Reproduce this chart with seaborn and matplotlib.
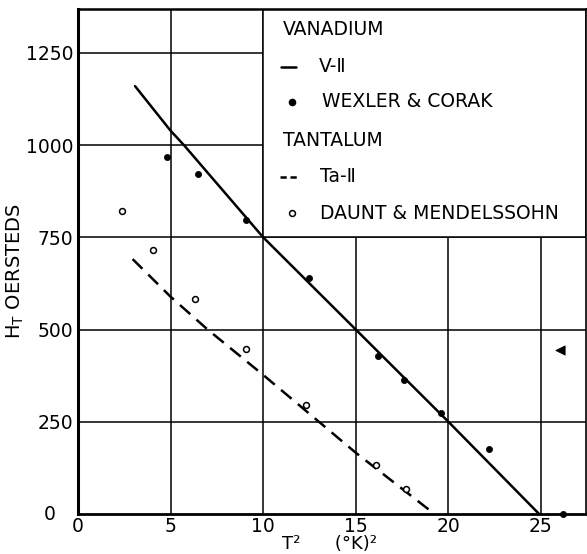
import matplotlib
matplotlib.use("Agg")
import matplotlib.pyplot as plt
from matplotlib.patches import Rectangle
import pandas as pd
import seaborn as sns

# Vanadium: theoretical curve V-II and the Wexler & Corak measurements
v_theory_t2 = [3.08, 5.0, 5.72, 10.0, 15.0, 20.0, 24.9]
v_theory_h = [1160, 1039, 1000, 750, 500, 250, 0]
wexler_t2 = [4.82, 6.46, 9.05, 12.49, 16.18, 17.6, 19.6, 22.2, 26.2]
wexler_h = [969, 922, 797, 641, 428, 363, 273, 176, 0]

# Tantalum: theoretical curve Ta-II and the Daunt & Mendelssohn measurements
ta_theory_t2 = [2.95, 5.0, 7.0, 10.0, 15.0, 19.25]
ta_theory_h = [691, 589, 500, 377, 166, 0]
daunt_t2 = [2.36, 4.07, 6.32, 9.05, 12.31, 16.07, 17.7]
daunt_h = [822, 716, 583, 447, 296, 133, 68]

# lone arrow mark on the right
arrow_t2 = [26.0]
arrow_h = [445]

x_ticks = [0, 5, 10, 15, 20, 25]
x_labels = ["0", "5", "10", "15", "20", "25"]
y_ticks = [250, 500, 750, 1000, 1250]
y_labels = ["250", "500", "750", "1000", "1250"]

legend_rows = ["VANADIUM", "V-Ⅱ", "WEXLER & CORAK",
               "TANTALUM", "Ta-Ⅱ", "DAUNT & MENDELSSOHN"]

sns.set_style("white")
plt.rcParams["font.family"] = ["DejaVu Sans"]
plt.rcParams["mathtext.default"] = "regular"
plt.rcParams["text.color"] = "black"
plt.rcParams["axes.labelcolor"] = "black"
plt.rcParams["xtick.color"] = "black"
plt.rcParams["ytick.color"] = "black"

v_line = pd.DataFrame({"t2": v_theory_t2, "h": v_theory_h})
ta_line = pd.DataFrame({"t2": ta_theory_t2, "h": ta_theory_h})
wexler = pd.DataFrame({"t2": wexler_t2, "h": wexler_h})
daunt = pd.DataFrame({"t2": daunt_t2, "h": daunt_h})

fig = plt.figure(figsize=(5.87, 5.54), dpi=100)
ax = fig.add_axes([78 / 587, 40 / 554, 508 / 587, 505 / 554])
ax.set_xlim(0, 27.43)
ax.set_ylim(0, 1369)

# grid and the blank panel holding the key
ax.set_axisbelow(True)
ax.grid(True, color="black", lw=1.1)
ax.add_patch(Rectangle((10, 750), 27.43 - 10, 1369 - 750, facecolor="white",
                       edgecolor="black", lw=1.1, zorder=1))

sns.lineplot(data=v_line, x="t2", y="h", ax=ax, sort=False, estimator=None,
             color="black", lw=1.8, zorder=3)
sns.lineplot(data=ta_line, x="t2", y="h", ax=ax, sort=False, estimator=None,
             color="black", lw=1.8, linestyle=(0, (5.5, 3.3)), zorder=3)
sns.scatterplot(data=wexler, x="t2", y="h", ax=ax, color="black", s=20,
                edgecolor="black", linewidth=0.5, zorder=4, clip_on=False)
sns.scatterplot(data=daunt, x="t2", y="h", ax=ax, color="white", s=18,
                edgecolor="black", linewidth=1.1, zorder=4)
sns.scatterplot(x=arrow_t2, y=arrow_h, ax=ax, marker="<", color="black",
                s=45, edgecolor="black", zorder=4)

# ticks and labels
tick_fs = 13.5
ax.set_xticks(x_ticks)
ax.set_xticklabels(x_labels)
ax.set_yticks(y_ticks)
ax.set_yticklabels(y_labels)
ax.tick_params(axis="both", length=0, labelsize=tick_fs, colors="black")
ax.tick_params(axis="x", pad=2)
ax.tick_params(axis="y", pad=3.5)
ax.text(-0.055, 0, "0", transform=ax.get_yaxis_transform(), ha="center",
        va="center", fontsize=tick_fs)

ax.set_xlabel("T²      (°K)²", fontsize=13)
ax.xaxis.label.set_va("center")
ax.xaxis.set_label_coords(0.496, -0.059)
ax.set_ylabel("H$_T$ OERSTEDS", fontsize=14)
ax.yaxis.label.set_va("center")
ax.yaxis.set_label_coords(-0.124, 0.481)

for side, lw in [("left", 2.2), ("bottom", 2.0), ("top", 1.8), ("right", 1.2)]:
    ax.spines[side].set_color("black")
    ax.spines[side].set_linewidth(lw)
    ax.spines[side].set_visible(True)
    ax.spines[side].set_zorder(5)

# key
tr = ax.transAxes
fs = 13.5
ax.text(0.4035, 0.959, legend_rows[0], transform=tr, va="center", fontsize=fs)
ax.plot([0.400, 0.429], [0.886, 0.886], transform=tr, color="black", lw=1.8)
ax.text(0.474, 0.886, legend_rows[1], transform=tr, va="center", fontsize=fs)
ax.scatter([0.421], [0.816], transform=tr, color="black", s=20, zorder=4)
ax.text(0.480, 0.816, legend_rows[2], transform=tr, va="center", fontsize=fs)
ax.text(0.4035, 0.739, legend_rows[3], transform=tr, va="center", fontsize=fs)
ax.plot([0.398, 0.431], [0.668, 0.668], transform=tr, color="black", lw=1.8,
        linestyle=(0, (2.5, 1.5)))
ax.text(0.476, 0.668, legend_rows[4], transform=tr, va="center", fontsize=fs)
ax.scatter([0.421], [0.596], transform=tr, color="white", edgecolor="black",
           s=18, linewidth=1.1, zorder=4)
ax.text(0.476, 0.596, legend_rows[5], transform=tr, va="center", fontsize=fs)

fig.savefig("out.png", dpi=100)
